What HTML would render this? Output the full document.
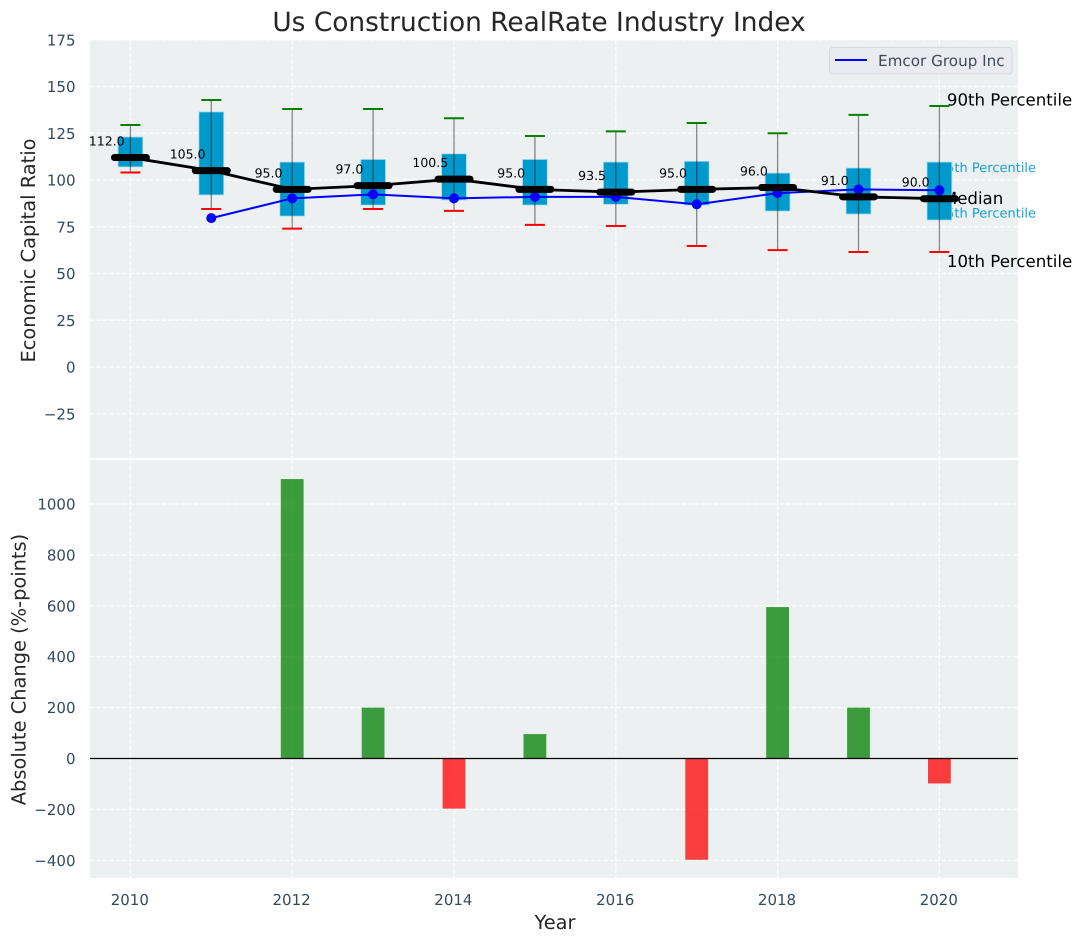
<!DOCTYPE html>
<html>
<head>
<meta charset="utf-8">
<title>Us Construction RealRate Industry Index</title>
<style>
html,body{margin:0;padding:0;background:#fff;width:1082px;height:942px;overflow:hidden}
svg{display:block;font-family:"DejaVu Sans","Liberation Sans",sans-serif;text-rendering:geometricPrecision}
</style>
</head>
<body>
<svg id="chart" xmlns="http://www.w3.org/2000/svg" width="1082" height="942" viewBox="0 0 1082 942"></svg>
<script>
const years = [2010, 2011, 2012, 2013, 2014, 2015, 2016, 2017, 2018, 2019, 2020];
const p90 = [129.4, 142.8, 138, 138, 133, 123.5, 126, 130.5, 125, 134.8, 139.6];
const p75 = [123, 136.4, 109.6, 111, 114, 111, 109.6, 110, 103.7, 106.4, 109.6];
const medians = [112, 105, 95, 97, 100.5, 95, 93.5, 95, 96, 91, 90];
const p25 = [107, 92, 80.7, 86.6, 89.3, 86.6, 87, 86.6, 83.4, 81.8, 78.6];
const p10 = [104, 84.5, 74, 84.5, 83.5, 76, 75.4, 64.7, 62.5, 61.5, 61.5];
const company = [null, 79.6, 90.2, 92.3, 90.2, 91, 91, 87, 93, 95, 94.5];
const changes = [0, 0, 1098, 200, -197, 96, 0, -398, 595, 200, -98];
const xTicks = [2010, 2012, 2014, 2016, 2018, 2020];
const topTicks = [-25, 0, 25, 50, 75, 100, 125, 150, 175];
const bottomTicks = [-400, -200, 0, 200, 400, 600, 800, 1000];

const svg = document.getElementById('chart');
const NS = 'http://www.w3.org/2000/svg';
function make(tag, attrs, text) {
  const el = document.createElementNS(NS, tag);
  for (const k in attrs) el.setAttribute(k, attrs[k]);
  if (text !== undefined) el.textContent = text;
  svg.appendChild(el);
  return el;
}
const xScale = v => 130.4 + (v - 2010) * 80.9;
const yTop = v => 367 - v * 1.87;
const yBottom = v => 758.5 - v * 0.2545;
const fmt = v => v < 0 ? '\u2212' + Math.abs(v) : String(v);

/* panels */
let el = make('rect', {x: 90, y: 40, width: 928, height: 418, fill: '#ecf0f1'});


el = make('rect', {x: 90, y: 460, width: 928, height: 418, fill: '#ecf0f1'});



/* grid */
const gridStyle = {stroke: '#ffffff', 'stroke-width': 1.2, 'stroke-dasharray': '4.5 2', opacity: 0.9};
xTicks.forEach(t => {
  el = make('line', Object.assign({x1: xScale(t), x2: xScale(t), y1: 40, y2: 458}, gridStyle));
  
  
  el = make('line', Object.assign({x1: xScale(t), x2: xScale(t), y1: 460, y2: 878}, gridStyle));
  
  
  el = make('text', {x: xScale(t) - 0.6, y: 905, 'text-anchor': 'middle', 'font-size': 15, fill: '#34495e'}, String(t));
  
  
});
topTicks.forEach(t => {
  el = make('line', Object.assign({x1: 90, x2: 1018, y1: yTop(t), y2: yTop(t)}, gridStyle));
  
  
  el = make('text', {x: 75.5, y: yTop(t) + 5.5, 'text-anchor': 'end', 'font-size': 15, fill: '#34495e'}, fmt(t));
  
  
});
bottomTicks.forEach(t => {
  el = make('line', Object.assign({x1: 90, x2: 1018, y1: yBottom(t), y2: yBottom(t)}, gridStyle));
  
  
  el = make('text', {x: 75.5, y: yBottom(t) + 5.5, 'text-anchor': 'end', 'font-size': 15, fill: '#34495e'}, fmt(t));
  
  
});

/* percentile annotations (drawn under the boxes) */
const last = years.length - 1;
const lastX = xScale(years[last]);
el = make('text', {x: lastX + 7.5, y: yTop(p90[last]) - 0.5, 'font-size': 16.6, fill: '#000'}, '90th Percentile');


el = make('text', {x: lastX - 1.5, y: yTop(p75[last]) + 10, 'font-size': 13, fill: '#0099cc', opacity: 0.9}, '75th Percentile');


el = make('text', {x: lastX - 1.5, y: yTop(p25[last]) - 2.5, 'font-size': 13, fill: '#0099cc', opacity: 0.9}, '25th Percentile');


el = make('text', {x: lastX + 3.5, y: yTop(medians[last]) + 5.5, 'font-size': 16.6, fill: '#000'}, 'Median');


el = make('text', {x: lastX + 7.5, y: yTop(p10[last]) + 15, 'font-size': 16.6, fill: '#000'}, '10th Percentile');



/* boxes, whiskers */
years.forEach((yr, i) => {
  const cx = xScale(yr);
  el = make('rect', {x: cx - 12.4, y: yTop(p75[i]), width: 24.8, height: yTop(p25[i]) - yTop(p75[i]), fill: '#0099cc', stroke: '#a9dcec', 'stroke-width': 0.8});
  
  
  el = make('line', {x1: cx, x2: cx, y1: yTop(p90[i]), y2: yTop(p10[i]), stroke: '#000', 'stroke-opacity': 0.45, 'stroke-width': 1.3});
  
  
  el = make('line', {x1: cx - 10, x2: cx + 10, y1: yTop(p90[i]), y2: yTop(p90[i]), stroke: '#008000', 'stroke-width': 2});
  
  
  el = make('line', {x1: cx - 10, x2: cx + 10, y1: yTop(p10[i]), y2: yTop(p10[i]), stroke: '#ff0000', 'stroke-width': 2});
  
  
});

/* company series */
const companyPoints = years.map((yr, i) => company[i] === null ? null : xScale(yr) + ',' + yTop(company[i])).filter(Boolean).join(' ');
el = make('polyline', {points: companyPoints, fill: 'none', stroke: '#0000ff', 'stroke-width': 2});


years.forEach((yr, i) => {
  if (company[i] === null) return;
  const dot = make('circle', {cx: xScale(yr), cy: yTop(company[i]), r: 5, fill: '#0000ff'});
  
  
});

/* median series */
el = make('polyline', {points: years.map((yr, i) => xScale(yr) + ',' + yTop(medians[i])).join(' '), fill: 'none', stroke: '#000', 'stroke-width': 2.8});


years.forEach((yr, i) => {
  const cx = xScale(yr);
  const my = yTop(medians[i]);
  const cap = make('line', {x1: cx - 16, x2: cx + 16, y1: my, y2: my, stroke: '#000', 'stroke-width': 7, 'stroke-linecap': 'round'});
  
  
  const lab = make('text', {x: cx - 23.7, y: my - 12, 'text-anchor': 'middle', 'font-size': 12.5, fill: '#000'}, medians[i].toFixed(1));
  
  
});

/* change bars */
years.forEach((yr, i) => {
  if (!changes[i]) return;
  const v = changes[i];
  const top = Math.min(yBottom(v), yBottom(0));
  const h = Math.abs(yBottom(v) - yBottom(0));
  const bar = make('rect', {x: xScale(yr) - 11.4, y: top, width: 22.8, height: h, fill: v > 0 ? '#008000' : '#ff0000', 'fill-opacity': 0.75});
  
  
});
el = make('line', {x1: 90, x2: 1018, y1: yBottom(0), y2: yBottom(0), stroke: '#000', 'stroke-width': 1.3});



/* legend */
el = make('rect', {x: 829.5, y: 47.5, width: 182.5, height: 26.5, rx: 3, fill: '#eaebf0', stroke: '#d5d8dc', 'stroke-width': 1});


el = make('line', {x1: 835, x2: 867, y1: 60, y2: 60, stroke: '#0000ff', 'stroke-width': 2});


el = make('text', {x: 878, y: 66, 'font-size': 15.2, fill: '#3d4a57'}, 'Emcor Group Inc');



/* titles */
el = make('text', {x: 539, y: 31, 'text-anchor': 'middle', 'font-size': 26.4, fill: '#262626'}, 'Us Construction RealRate Industry Index');


el = make('text', {x: 555, y: 929, 'text-anchor': 'middle', 'font-size': 19.4, fill: '#262626'}, 'Year');


el = make('text', {transform: 'translate(35 250.5) rotate(-90)', 'text-anchor': 'middle', 'font-size': 19.4, fill: '#262626'}, 'Economic Capital Ratio');


el = make('text', {transform: 'translate(25.5 669.5) rotate(-90)', 'text-anchor': 'middle', 'font-size': 19.4, fill: '#262626'}, 'Absolute Change (%-points)');


</script>
</body>
</html>
